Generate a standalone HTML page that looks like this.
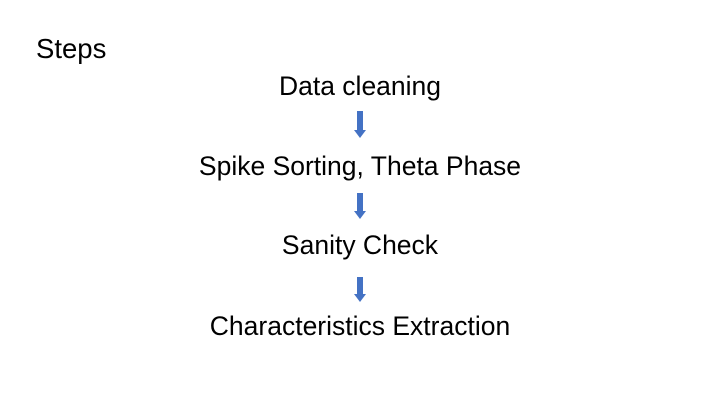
<!DOCTYPE html>
<html><head><style>
body{margin:0;width:720px;height:405px;background:#fff;position:relative;overflow:hidden;font-family:"Liberation Sans",sans-serif;color:#000}
.t{position:absolute;left:0;width:720px;text-align:center;font-size:26.5px;line-height:30px}
.s{position:absolute;left:36px;top:34px;font-size:27.5px;line-height:30px}
svg{position:absolute;left:0;top:0}
</style></head><body>
<div class="s">Steps</div>
<div class="t" style="top:71px">Data cleaning</div>
<div class="t" style="top:151px">Spike Sorting, Theta Phase</div>
<div class="t" style="top:230px">Sanity Check</div>
<div class="t" style="top:311px">Characteristics Extraction</div>
<svg width="720" height="405">
<g fill="#4472C4">
<polygon points="357,111 363,111 363,130 366,130 360,138 354,130 357,130"/>
<polygon points="357,193 363,193 363,211 366,211 360,219 354,211 357,211"/>
<polygon points="357,277 363,277 363,294 366,294 360,302 354,294 357,294"/>
</g></svg>
</body></html>
